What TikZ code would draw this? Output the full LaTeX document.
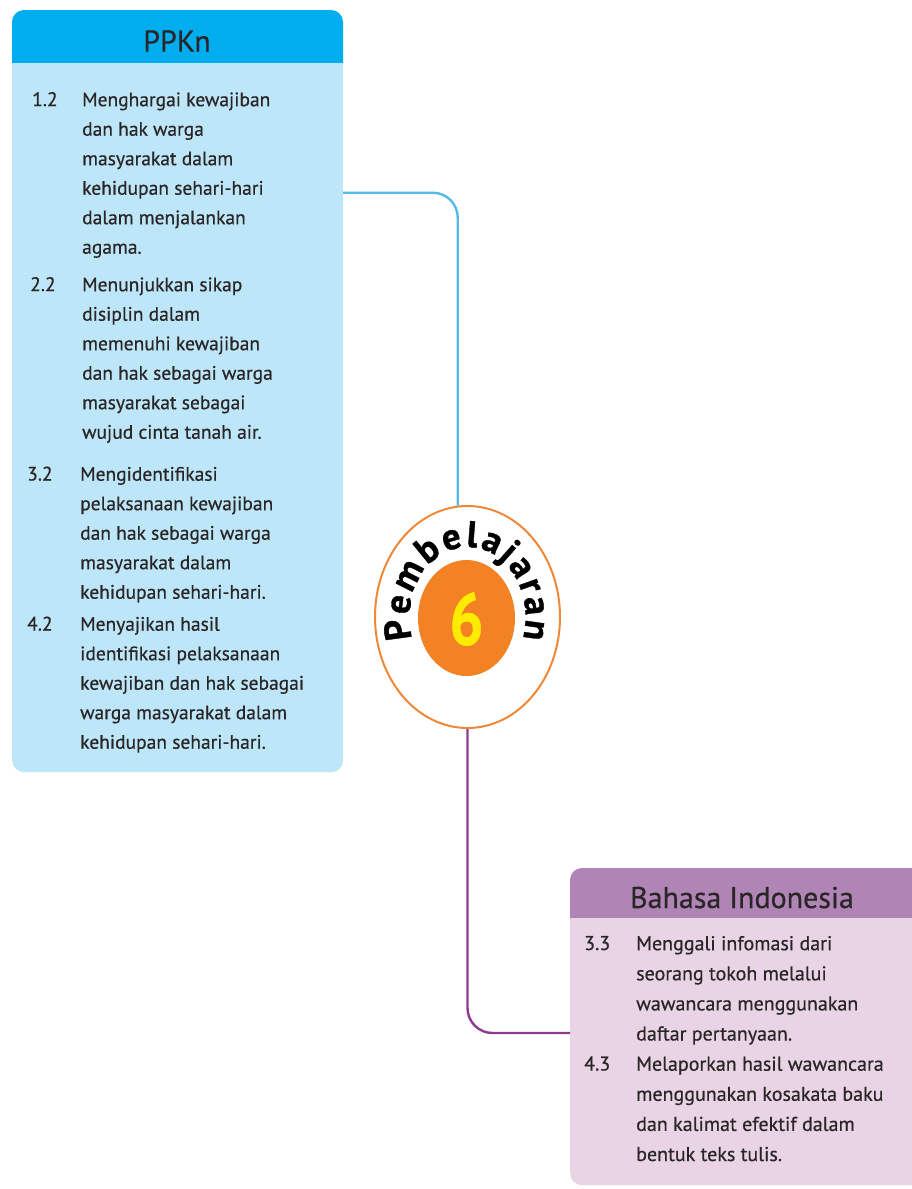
\documentclass[tikz,border=0pt]{standalone}
\usepackage{fontspec}
\setmainfont{PT Sans}[FakeBold=0.5, BoldFeatures={FakeBold=1}]
\usetikzlibrary{shapes.geometric,decorations.text}

\definecolor{ppknhead}{HTML}{00AEEF}
\definecolor{ppknbody}{HTML}{BEE6F9}
\definecolor{ppknline}{HTML}{55BAEA}
\definecolor{bindhead}{HTML}{B085B5}
\definecolor{bindbody}{HTML}{E8D4E4}
\definecolor{bindline}{HTML}{8E3A90}
\definecolor{ringorange}{HTML}{F0883A}
\definecolor{discorange}{HTML}{F28223}
\definecolor{sixyellow}{HTML}{FFEB00}
\definecolor{ink}{HTML}{2A2526}

\begin{document}
\begin{tikzpicture}[x=1pt,y=1pt,
  % multi-line items hang from the top of a strut on the first line
  itemtxt/.style={anchor=north west, inner sep=0pt, align=left, text=ink,
    font=\fontsize{19.5}{29.5}\selectfont},
  itemnum/.style={anchor=base west, inner sep=0pt, text=ink,
    font=\fontsize{19.5}{29.5}\selectfont},
  bitemtxt/.style={itemtxt, font=\fontsize{20}{30.1}\selectfont},
  bitemnum/.style={itemnum, font=\fontsize{20}{30.1}\selectfont},
  headtxt/.style={anchor=base, inner sep=0pt, text=ink,
    font=\fontsize{30}{30}\selectfont},
  panel/.style={rectangle, rounded corners=12, inner sep=0pt, draw=none},
  link/.style={line width=2.4pt, rounded corners=25},
]
\useasboundingbox (0,0) rectangle (912,-1189);

% ---------- PPKn panel ----------
\node[panel, fill=ppknbody, minimum width=331, minimum height=762,
      anchor=north west] (ppkn) at (12,-10) {};
\begin{scope}
  \clip (0,-62) rectangle (912,0);
  \fill[ppknhead, rounded corners=12] (12,-10) rectangle (343,-772);
\end{scope}
\node[headtxt] (ppkntitle) at (177,-51.5) {PPKn};

% strut height = 0.7 x 29.5 = 20.65
\node[itemnum] (n12) at (32,-106) {1.2};
\node[itemtxt] (t12) at (82,-85.35) {\strut Menghargai kewajiban\\dan hak warga\\masyarakat dalam\\kehidupan sehari-hari\\dalam menjalankan\\agama.};
\node[itemnum] (n22) at (30,-291) {2.2};
\node[itemtxt] (t22) at (82,-270.35) {\strut Menunjukkan sikap\\disiplin dalam\\memenuhi kewajiban\\dan hak sebagai warga\\masyarakat sebagai\\wujud cinta tanah air.};
\node[itemnum] (n32) at (27,-480.5) {3.2};
\node[itemtxt] (t32) at (80,-459.85) {\strut Mengidentifikasi\\pelaksanaan kewajiban\\dan hak sebagai warga\\masyarakat dalam\\kehidupan sehari-hari.};
\node[itemnum] (n42) at (27,-630.5) {4.2};
\node[itemtxt] (t42) at (80,-609.85) {\strut Menyajikan hasil\\identifikasi pelaksanaan\\kewajiban dan hak sebagai\\warga masyarakat dalam\\kehidupan sehari-hari.};

% ---------- Bahasa Indonesia panel ----------
\node[panel, fill=bindbody, minimum width=355, minimum height=317,
      anchor=north west] (bind) at (570,-868) {};
\begin{scope}
  \clip (0,-917) rectangle (912,-850);
  \fill[bindhead, rounded corners=12] (570,-868) rectangle (925,-1185);
\end{scope}
\node[headtxt] (bindtitle) at (742,-908) {Bahasa Indonesia};

% strut height = 0.7 x 30.1 = 21.07
\node[bitemnum] (n33) at (584,-950) {3.3};
\node[bitemtxt] (t33) at (636,-928.93) {\strut Menggali infomasi dari\\seorang tokoh melalui\\wawancara menggunakan\\daftar pertanyaan.};
\node[bitemnum] (n43) at (584,-1070.5) {4.3};
\node[bitemtxt] (t43) at (636,-1049.43) {\strut Melaporkan hasil wawancara\\menggunakan kosakata baku\\dan kalimat efektif dalam\\bentuk teks tulis.};

% ---------- central hub ----------
\node[ellipse, draw=ringorange, line width=2pt, fill=white,
      minimum width=185, minimum height=222, inner sep=0pt] (hub) at (467.5,-617) {};
\node[ellipse, fill=discorange, minimum width=97, minimum height=116,
      inner sep=0pt] (disc) at (466.5,-618) {};
\node[text=sixyellow, inner sep=0pt, font=\fontsize{60}{60}\selectfont\bfseries]
      (six) at (466.5,-619) {\scalebox{1}[1.22]{6}};
\path[decorate, decoration={text along path,
      text={|\fontsize{37}{37}\selectfont\bfseries|Pembelajaran},
      text align=fit to path}]
  (hub.center) ++(198:58 and 70) arc[start angle=198, end angle=-18, x radius=58, y radius=70];

% ---------- connectors ----------
\coordinate (ppknport) at (343,-192.7);
\coordinate (bindport) at (570,-1033);
\draw[link, ppknline] (ppknport) -| (hub.95);
\draw[link, bindline] (hub.south) |- (bindport);
\end{tikzpicture}
\end{document}
